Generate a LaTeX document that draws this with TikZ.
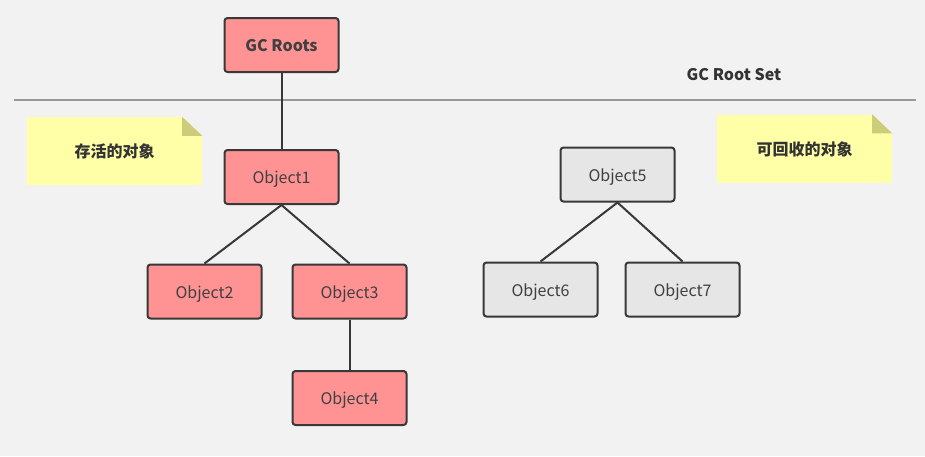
\documentclass[tikz,border=0pt]{standalone}
\usepackage{fontspec}
\setmainfont{Noto Sans CJK SC}
\usepackage{tikz}
\usetikzlibrary{positioning}
\definecolor{bgcol}{HTML}{F2F2F2}
\definecolor{livecol}{HTML}{FF9393}
\definecolor{deadcol}{HTML}{E6E6E6}
\definecolor{edgecol}{HTML}{383838}
\definecolor{notecol}{HTML}{FFFFA8}
\definecolor{foldcol}{HTML}{CCCC7A}
\definecolor{rulecol}{HTML}{999999}

\begin{document}
\begin{tikzpicture}[x=1pt,y=-1pt,
    objbox/.style={draw=edgecol,line width=2pt,rounded corners=3pt,minimum width=114pt,minimum height=54pt,text height=15pt,text depth=2pt,font=\fontsize{16}{18}\selectfont,text=black!75},
    live/.style={objbox,fill=livecol},
    dead/.style={objbox,fill=deadcol},
    note/.style={fill=notecol,minimum width=175pt,minimum height=68pt,inner sep=0pt,text height=15pt,text depth=2pt,font=\fontsize{16}{18}\selectfont\bfseries,text=black!80},
    link/.style={draw=edgecol,line width=2pt}]
  \fill[bgcol] (0,0) rectangle (925,456);
  \useasboundingbox (0,0) rectangle (925,456);
  % root set
  \node[live,font=\fontsize{16}{18}\selectfont\bfseries] (roots) at (281.5,45) {GC Roots};
  \node[font=\fontsize{16}{18}\selectfont\bfseries,text=black!80] (setlabel) at (734,75) {GC Root Set};
  \coordinate (ruleL) at (14,100);
  \coordinate (ruleR) at (916,100);
  \draw[rulecol,line width=2pt] (ruleL) -- (ruleR);
  % reachable objects
  \node[live] (obj1) at (281.5,177) {Object1};
  \node[live] (obj2) at (204.5,291.5) {Object2};
  \node[live] (obj3) at (349.5,291.5) {Object3};
  \node[live] (obj4) at (349.5,398) {Object4};
  % unreachable objects
  \node[dead] (obj5) at (617.5,174.5) {Object5};
  \node[dead] (obj6) at (540.5,289.5) {Object6};
  \node[dead] (obj7) at (682.5,289.5) {Object7};
  \draw[link] (roots) -- (obj1);
  \draw[link] (obj1.south) -- (obj2.north);
  \draw[link] (obj1.south) -- (obj3.north);
  \draw[link] (obj3) -- (obj4);
  \draw[link] (obj5.south) -- (obj6.north);
  \draw[link] (obj5.south) -- (obj7.north);
  % notes
  \node[note] (livenote) at (114.5,151) {存活的对象};
  \node[note] (deadnote) at (804.5,148.5) {可回收的对象};
  \foreach \n in {livenote,deadnote} {
    \fill[bgcol] (\n.north east) -- ++(-20,0) -- ++(20,19) -- cycle;
    \fill[foldcol] (\n.north east) ++(-20,0) -- ++(0,19) -- ++(20,0) -- cycle;
  }
\end{tikzpicture}
\end{document}
